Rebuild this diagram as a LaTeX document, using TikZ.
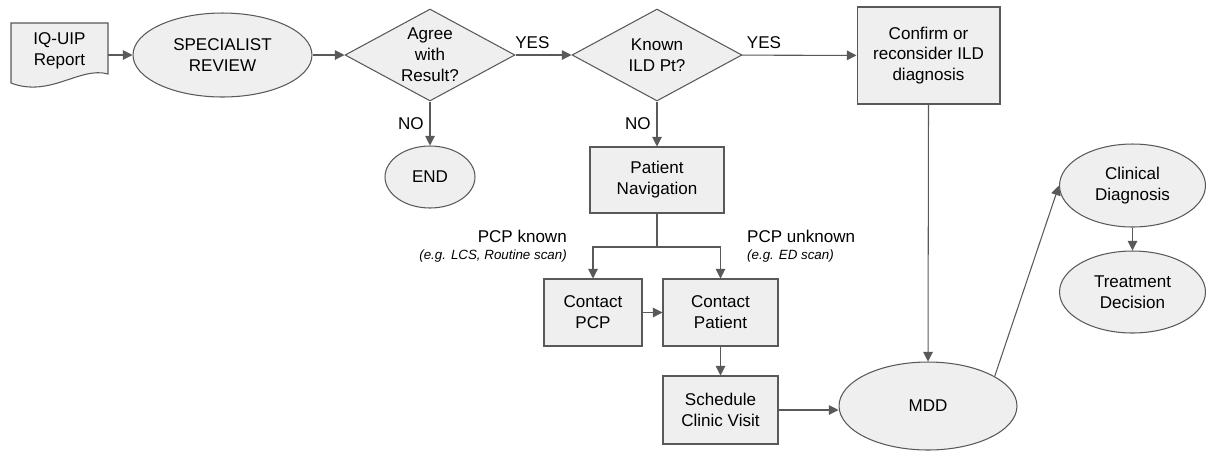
\documentclass[tikz,border=0pt]{standalone}
\usepackage{fontspec}
\setmainfont{Liberation Sans}
\usetikzlibrary{positioning,calc,arrows.meta,shapes.geometric}
\definecolor{linegray}{HTML}{595959}
\definecolor{boxgray}{HTML}{EFEFEF}
\tikzstyle{edge} = [-{Triangle[length=5.5pt,width=5.5pt]}, draw=linegray, line width=0.6pt]
\tikzstyle{box} = [rectangle, draw=linegray, fill=boxgray, line width=0.6pt, align=center]
\tikzstyle{oval} = [ellipse, draw=linegray, fill=boxgray, line width=0.6pt, align=center, inner sep=0pt]
\tikzstyle{decision} = [diamond, draw=linegray, fill=boxgray, line width=0.6pt, inner sep=0pt, minimum width=3.4cm, minimum height=1.84cm]
\newcommand{\egfont}{\fontsize{7.6}{9}\selectfont\itshape}

\begin{document}
\begin{tikzpicture}[x=0.02cm, y=-0.02cm]
\tikzstyle{every node}=[font=\fontsize{9.7}{11.9}\selectfont]
\useasboundingbox (0,0) rectangle (1206,451);
	\filldraw[fill=boxgray, draw=linegray, line width=0.6pt] (11,23) -- (108,23) -- (108,74) .. controls (80,66) and (50,98) .. (11,83) -- cycle;
	\node[align=center, minimum width=1.94cm, minimum height=1.2cm] (report) at (59.5,51) {IQ-UIP\\Report};
	\node[oval, minimum width=3.58cm, minimum height=1.68cm] (review) at (222.5,55) {SPECIALIST\\REVIEW};
	\node[decision, label={[align=center]center:Agree\\with\\Result?}] (agree) at (430,55) {};
	\node[decision, label={[align=center]center:Known\\ILD Pt?}] (known) at (657,55) {};
	\node[box, minimum width=2.86cm, minimum height=1.94cm] (confirm) at (928.5,55.5) {Confirm or\\reconsider ILD\\diagnosis};
	\node[oval, minimum width=1.8cm, minimum height=1.24cm] (finish) at (430,177) {END};
	\node[box, minimum width=2.68cm, minimum height=1.32cm] (nav) at (657,180) {Patient\\Navigation};
	\node[box, minimum width=1.96cm, minimum height=1.34cm] (pcp) at (593,312.5) {Contact\\PCP};
	\node[box, minimum width=2.3cm, minimum height=1.34cm] (patient) at (720.5,312.5) {Contact\\Patient};
	\node[box, minimum width=2.3cm, minimum height=1.36cm] (visit) at (720.5,410) {Schedule\\Clinic Visit};
	\node[oval, minimum width=3.56cm, minimum height=1.76cm] (mdd) at (928,406) {MDD};
	\node[oval, minimum width=2.92cm, minimum height=1.66cm] (clinical) at (1132.5,185.5) {Clinical\\Diagnosis};
	\node[oval, minimum width=2.92cm, minimum height=1.64cm] (treatment) at (1132.5,292) {Treatment\\Decision};
	\node[anchor=east, align=right] (knownlbl) at (573,246) {PCP known\\[-2pt]{\egfont (e.g. LCS, Routine scan)}};
	\node[anchor=west, align=left] (unknownlbl) at (741,246) {PCP unknown\\[-2pt]{\egfont (e.g. ED scan)}};
	\coordinate (split) at (657,247);

	\draw[edge] (report.east |- review.west) -- (review.west);
	\draw[edge] (review) -- (agree);
	\draw[edge] (agree) -- node[above, pos=0.3] {YES} (known);
	\draw[edge] (known) -- node[above, pos=0.19] {YES} (confirm);
	\draw[edge] (agree) -- node[left] {NO} (finish);
	\draw[edge] (known) -- node[left] {NO} (nav);
	\draw[draw=linegray, line width=0.6pt] (nav) -- (split);
	\draw[edge] (split) -| (pcp);
	\draw[edge] (split) -| (patient);
	\draw[edge] (pcp) -- (patient);
	\draw[edge] (patient) -- (visit);
	\draw[edge] (visit.east) -- (visit.east -| mdd.west);
	\draw[edge] (confirm.south) -- (mdd.north);
	\draw[edge] (mdd.24) -- (clinical.west);
	\draw[edge] (clinical) -- (treatment);
\end{tikzpicture}
\end{document}
